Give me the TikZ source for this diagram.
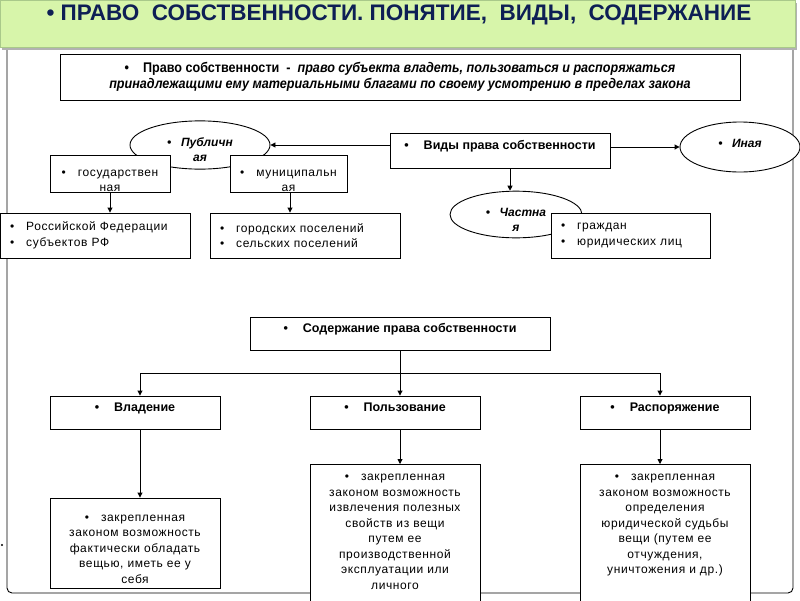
\documentclass[tikz,border=0pt]{standalone}
\usepackage{fontspec}
\setmainfont{Liberation Sans}
\newfontfamily\narrowfont[FakeStretch=0.9]{Liberation Sans}
\newfontfamily\spacedfont[LetterSpace=5]{Liberation Sans}
\usetikzlibrary{shapes.geometric, arrows.meta, positioning}
\definecolor{bannergreen}{HTML}{D7F5AA}
\definecolor{bannerline}{HTML}{A9C98A}
\definecolor{titlenavy}{HTML}{0E1F55}
\tikzset{
  box/.style={draw, fill=white, line width=0.9pt, inner sep=0pt, align=center,
    font=\spacedfont\fontsize{12}{15.5}\selectfont},
  headbox/.style={box, text depth=11pt, font=\bfseries\fontsize{12.5}{15}\selectfont},
  listbox/.style={box, align=left, inner xsep=10pt},
  oval/.style={ellipse, draw, fill=white, line width=0.9pt, inner sep=0pt, align=center,
    font=\bfseries\itshape\fontsize{12}{15}\selectfont},
  lowtext/.style={execute at begin node=\rule{0pt}{#1}},
  link/.style={->, line width=0.9pt},
}
\begin{document}
\begin{tikzpicture}[x=1pt, y=-1pt, >={Triangle[length=5pt, width=5pt]}]
    \useasboundingbox (0,0) rectangle (800,600);

    % Outer frame
    \draw[line width=0.9pt, rounded corners=5pt] (7,48) -- (7,593) -- (793,593) -- (793,48);
    \fill (2,545) circle (1.2pt);

    % Title banner
    \fill[black!30] (2,3) rectangle (797,50);
    \filldraw[fill=bannergreen, draw=bannerline] (0,0) rectangle (795,47);
    \node[anchor=base, text=titlenavy, font=\bfseries\fontsize{22.5}{25}\selectfont] (title) at (399,20)
        {•~ПРАВО~~СОБСТВЕННОСТИ.~ПОНЯТИЕ,~~ВИДЫ,~~СОДЕРЖАНИЕ};

    % Definition
    \node[box, minimum width=680pt, minimum height=46pt,
          font=\narrowfont\bfseries\fontsize{14}{16.5}\selectfont] (defn) at (400,77)
        {•\hspace{1em}Право собственности~ - ~\textit{право субъекта владеть, пользоваться и распоряжаться}\\
         \textit{принадлежащими ему материальными благами по своему усмотрению в пределах закона}};

    % Kinds of ownership
    \node[headbox, minimum width=220pt, minimum height=35pt] (vidy) at (500,150.5)
        {•\hspace{1.2em}Виды права собственности};
    \node[oval, lowtext=34pt, minimum width=140pt, minimum height=44pt] (pub) at (200,145)
        {•\hspace{0.8em}Публичн\\ ая};
    \node[box, lowtext=36pt, minimum width=120pt, minimum height=34pt] (gos) at (110,174)
        {•\hspace{1em}государствен\\ ная};
    \node[box, lowtext=36pt, minimum width=117pt, minimum height=34pt] (mun) at (288.5,174)
        {•\hspace{1em}муниципальн\\ ая};
    \node[listbox, minimum width=190pt, minimum height=45pt, text width=170pt] (rf) at (95,235.5)
        {•\hspace{1em}Российской Федерации\\ •\hspace{1em}субъектов РФ};
    \node[listbox, minimum width=190pt, minimum height=45pt, text width=170pt] (pos) at (305,235.5)
        {•\hspace{1em}городских поселений\\ •\hspace{1em}сельских поселений};
    \node[oval, lowtext=33pt, minimum width=132pt, minimum height=45pt] (chast) at (516,214.5)
        {•\hspace{0.8em}Частна\\ я};
    \node[listbox, minimum width=159pt, minimum height=45pt, text width=139pt] (grazh) at (630.5,235.5)
        {•\hspace{1em}граждан\\ •\hspace{1em}юридических лиц};
    \node[oval, text depth=8pt, minimum width=120pt, minimum height=50pt] (ina) at (740,147)
        {•\hspace{0.8em}Иная};

    \draw[link] (vidy.west |- pub.east) -- (pub.east);
    \draw[link] (vidy.east |- ina.west) -- (ina.west);
    \draw[link] ([xshift=10pt]vidy.south) -- ([xshift=10pt]vidy.south |- chast.north);
    \draw[link] (gos.south) -- (gos.south |- rf.north);
    \draw[link] ([xshift=1.5pt]mun.south) -- ([xshift=1.5pt]mun.south |- pos.north);

    % Content of ownership
    \node[headbox, minimum width=300pt, minimum height=33pt] (soder) at (400,333.5)
        {•\hspace{1.2em}Содержание права собственности};
    \node[headbox, minimum width=170pt, minimum height=33pt] (vlad) at (135,412.5)
        {•\hspace{1.2em}Владение};
    \node[headbox, minimum width=170pt, minimum height=33pt] (polz) at (395,412.5)
        {•\hspace{1.2em}Пользование};
    \node[headbox, minimum width=170pt, minimum height=33pt] (rasp) at (665,412.5)
        {•\hspace{1.2em}Распоряжение};

    \coordinate (fork) at (400,373);
    \draw[link] (soder.south) -- ([xshift=5pt]polz.north);
    \draw[link] (fork) -| ([xshift=5pt]vlad.north);
    \draw[link] (fork) -| ([xshift=-5pt]rasp.north);

    \node[box, lowtext=19pt, minimum width=170pt, minimum height=90pt, text width=160pt] (vladtxt) at (135,543)
        {•\hspace{1em}закрепленная\\ законом возможность\\ фактически обладать\\ вещью, иметь ее у\\ себя};
    \node[box, anchor=north, minimum width=170pt, text width=160pt, inner ysep=10pt] (polztxt) at (395,464)
        {•\hspace{1em}закрепленная\\ законом возможность\\ извлечения полезных\\ свойств из вещи\\ путем ее\\ производственной\\ эксплуатации или\\ личного\\ \strut\\ \strut};
    \node[box, anchor=north, minimum width=170pt, text width=160pt, inner ysep=10pt] (rasptxt) at (665,464)
        {•\hspace{1em}закрепленная\\ законом возможность\\ определения\\ юридической судьбы\\ вещи (путем ее\\ отчуждения,\\ уничтожения и др.)\\ \strut\\ \strut\\ \strut};

    \draw[link] ([xshift=5pt]vlad.south) -- ([xshift=5pt]vladtxt.north);
    \draw[link] ([xshift=5pt]polz.south) -- ([xshift=5pt]polztxt.north);
    \draw[link] ([xshift=-5pt]rasp.south) -- ([xshift=-5pt]rasptxt.north);
\end{tikzpicture}
\end{document}
